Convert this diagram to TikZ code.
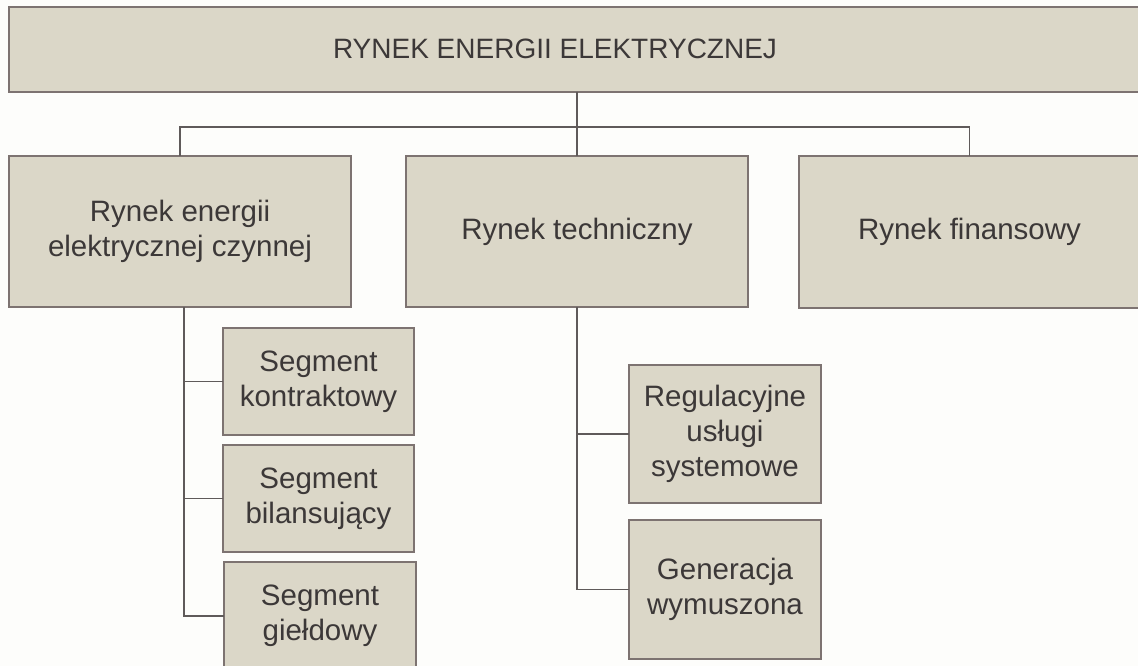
\documentclass[tikz,border=0pt]{standalone}
\usepackage{fontspec}
\setmainfont{Liberation Sans}
\definecolor{boxfill}{RGB}{219,215,200}
\definecolor{boxline}{RGB}{125,115,113}
\definecolor{wireline}{RGB}{95,90,90}
\definecolor{inkgray}{RGB}{60,56,56}
\definecolor{paper}{RGB}{253,253,251}
\tikzset{
  panel/.style={draw=boxline, line width=2pt, fill=boxfill, rectangle,
    inner sep=0pt, outer sep=0pt, align=center, text=inkgray,
    font=\fontsize{29.5}{35}\selectfont},
  wire/.style={draw=wireline, line width=1.6pt},
  headtext/.style={text=inkgray, inner sep=0pt, font=\fontsize{28}{33}\selectfont}
}
\begin{document}
\begin{tikzpicture}[x=1pt, y=-1pt]
  \fill[paper] (0,0) rectangle (1138,666);
  \useasboundingbox (0,0) rectangle (1138,666);

  % top level
  \node[panel, minimum width=1133pt, minimum height=85pt] (top) at (575.5,49.5) {};
  \node[headtext] (toptext) at (555,49) {RYNEK ENERGII ELEKTRYCZNEJ};

  % second level
  \node[panel, minimum width=342pt, minimum height=151pt] (left) at (180,231.5)
    {Rynek energii\\elektrycznej czynnej};
  \node[panel, minimum width=342pt, minimum height=151pt] (mid) at (577,231.5)
    {Rynek techniczny};
  \node[panel, minimum width=342pt, minimum height=151pt] (right) at (969.5,232)
    {Rynek finansowy};

  % segments of the active energy market
  \node[panel, minimum width=191pt, minimum height=107pt] (s1) at (318.5,381.5)
    {Segment\\kontraktowy};
  \node[panel, minimum width=191pt, minimum height=107pt] (s2) at (318.5,498.5)
    {Segment\\bilansujący};
  \node[panel, minimum width=192pt, minimum height=108pt] (s3) at (320,616)
    {Segment\\giełdowy};

  % technical market services
  \node[panel, minimum width=192pt, minimum height=138pt] (r1) at (725,434)
    {Regulacyjne\\usługi\\systemowe};
  \node[panel, minimum width=192pt, minimum height=139pt] (g1) at (725,589.5)
    {Generacja\\wymuszona};

  % connectors
  \coordinate (bus) at (577,127);
  \coordinate (ltrunk) at (184,307);
  \draw[wire] (top.south -| mid.north) -- (mid.north);
  \draw[wire] (left.north) |- (bus) -| (right.north);

  \draw[wire] (ltrunk) |- (s3.west);
  \draw[wire] (s1.west) -- (s1.west -| ltrunk);
  \draw[wire] (s2.west) -- (s2.west -| ltrunk);

  \draw[wire] (mid.south) |- (g1.west);
  \draw[wire] (r1.west) -- (r1.west -| mid.south);
\end{tikzpicture}
\end{document}
